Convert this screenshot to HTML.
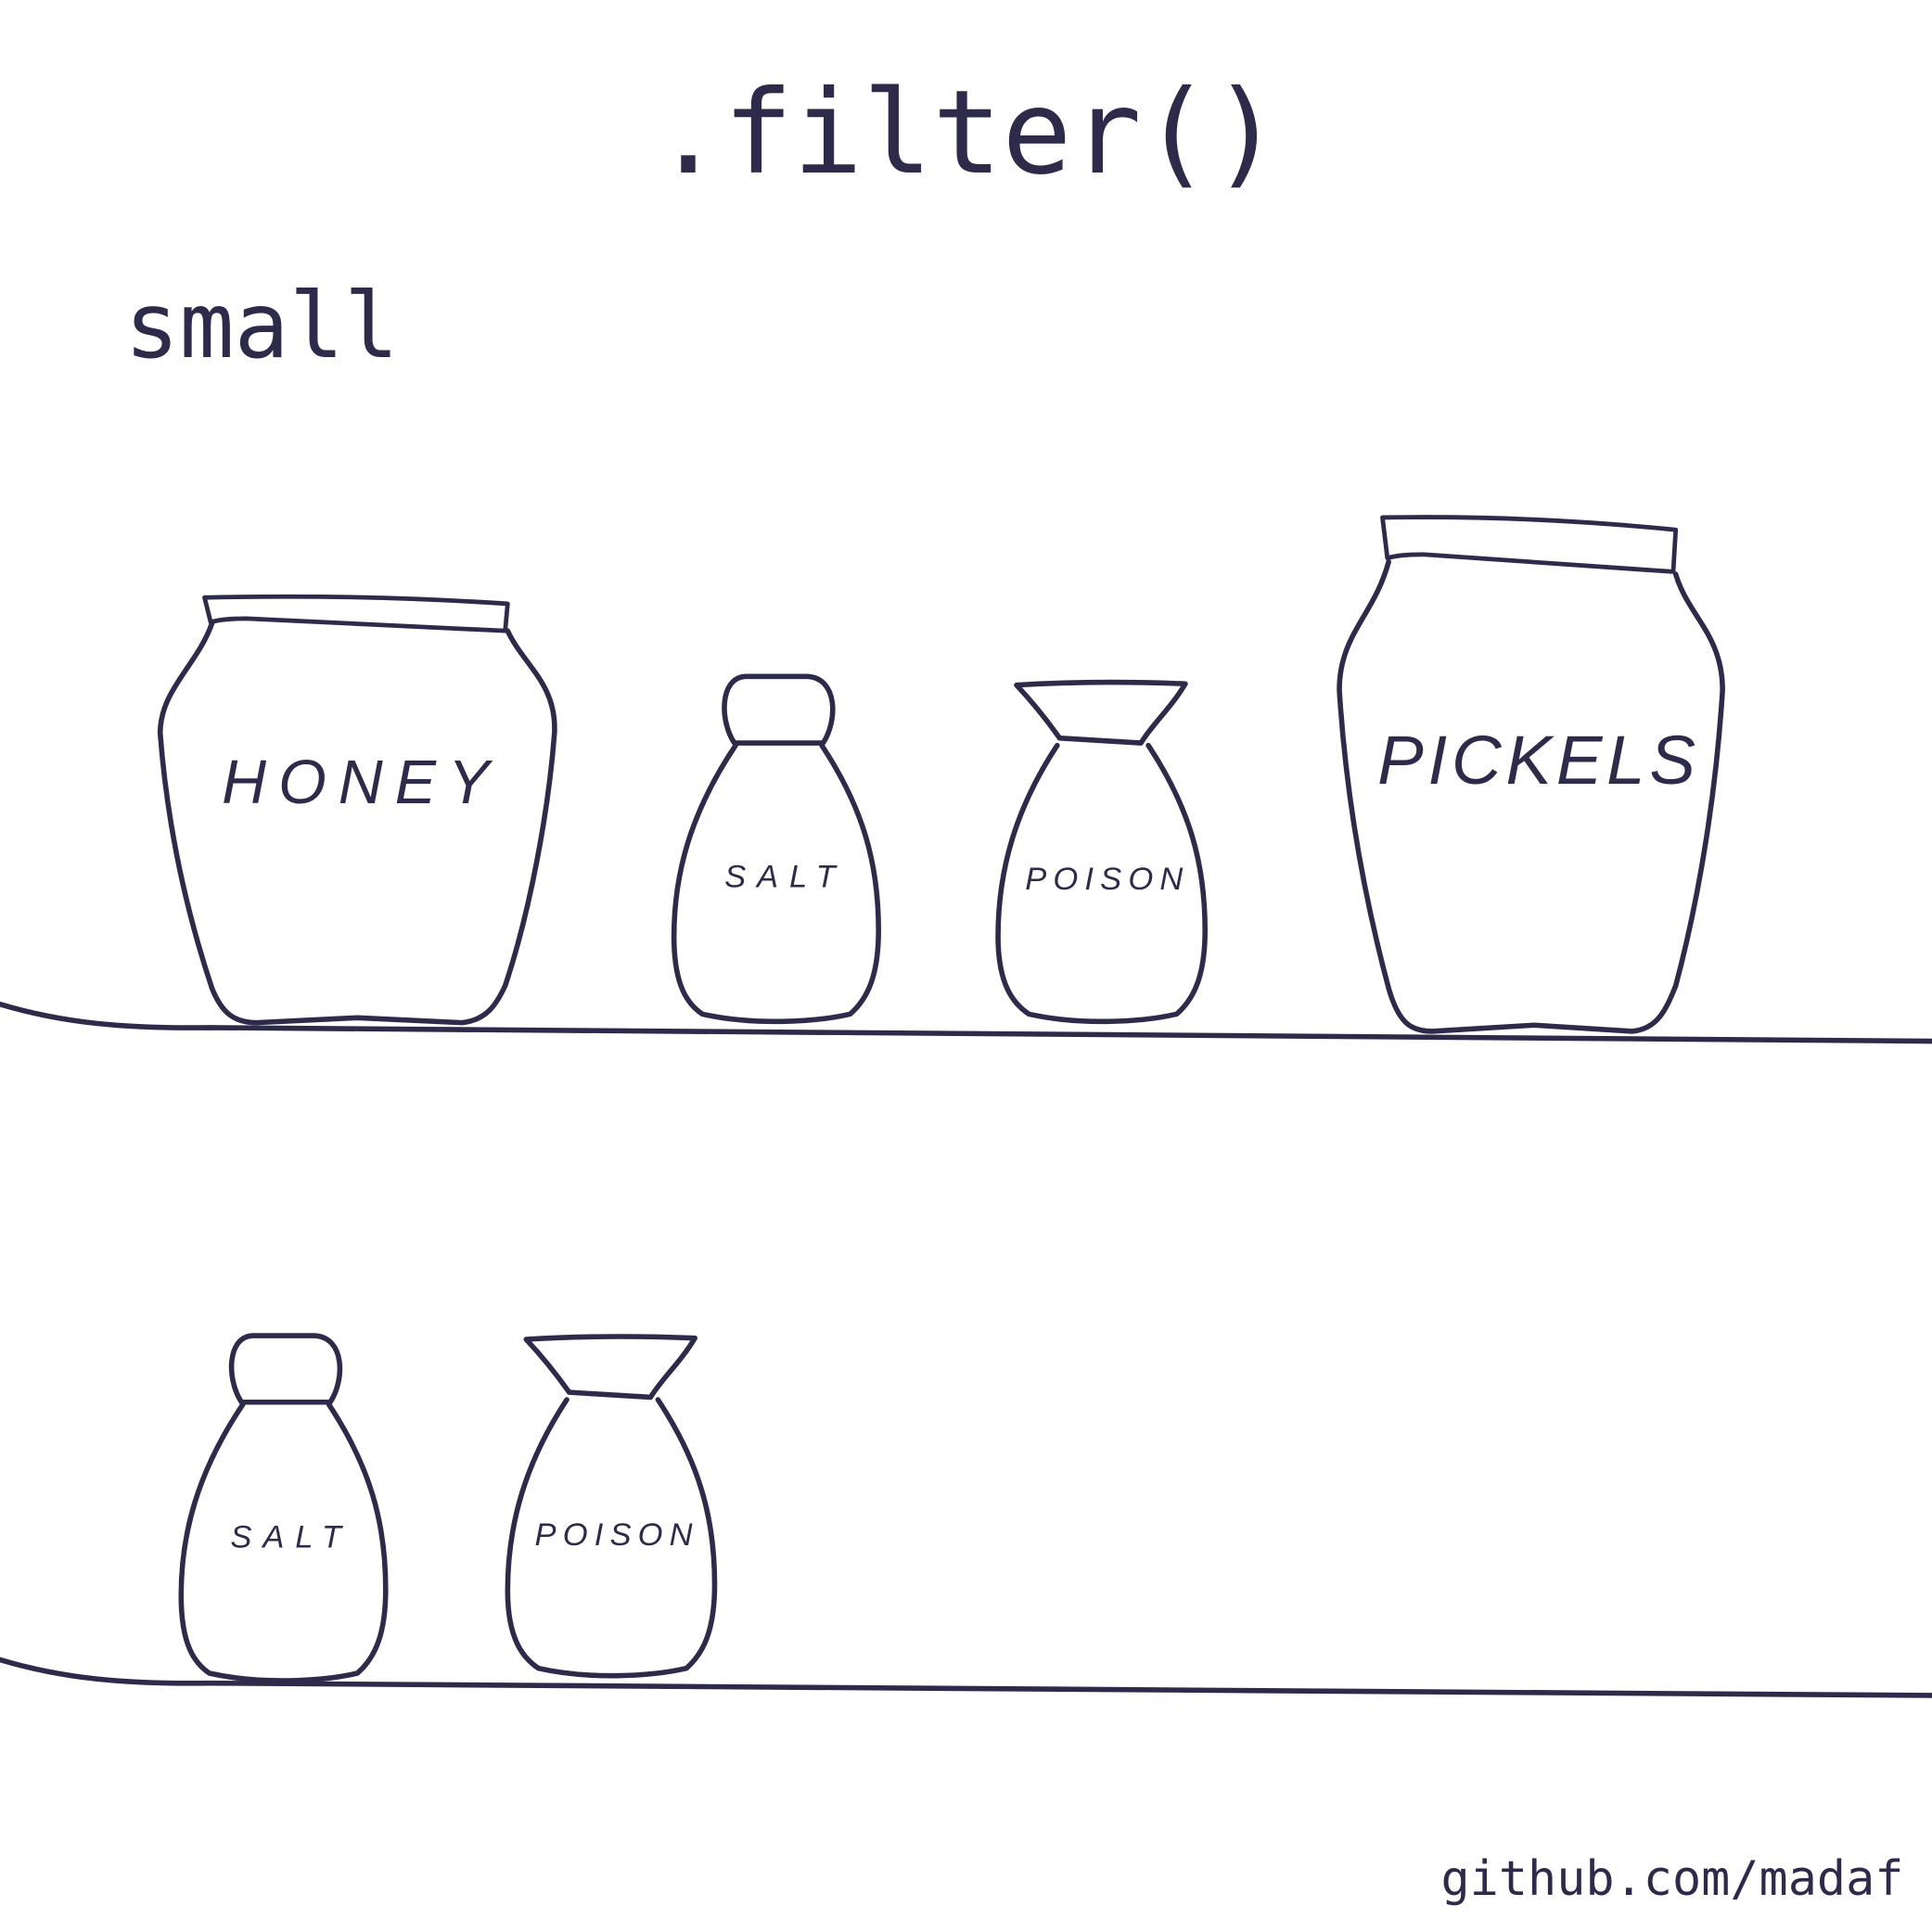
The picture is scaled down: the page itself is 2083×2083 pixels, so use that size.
<!DOCTYPE html>
<html><head><meta charset="utf-8"><style>
html,body{margin:0;padding:0;background:#fff;}
svg{display:block;}
</style></head><body>
<svg width="2083" height="2083" viewBox="0 0 1568 1568" xmlns="http://www.w3.org/2000/svg">
<g fill="#2e2a4a" font-family="'DejaVu Sans Mono','Liberation Mono',monospace">
<text x="785" y="140" font-size="94" text-anchor="middle">.filter()</text>
<text x="101" y="290" font-size="74">small</text>
<text x="1545" y="1538" font-size="39" text-anchor="end">github.com/madaf</text>
</g>
<g fill="none" stroke="#2e2a4a" stroke-width="4.2" stroke-linejoin="round" stroke-linecap="round">
<path d="M0 815 C50 830 100 835 170 834 L1568 845"/>
<path d="M0 1347 C50 1362 100 1367 170 1366 L1568 1376"/>
<path d="M166 485 Q290 482 412 490 L410 512 L200 502 Q180 502 171 505 Z" stroke-width="3.6"/>
<path d="M172 506 C160 540 130 560 130 595 C135 660 148 730 172 802 C180 822 190 830 208 830 L290 826 L375 830 C395 828 403 815 410 800 C430 740 445 660 450 595 C452 555 425 540 412 512" />
<path d="M605 549 L655 549 C680 550 680 585 668 603 L596 603 C584 585 584 550 605 549 Z"/>
<path d="M597 605 C560 660 547 710 547 760 C547 800 558 815 570 823 C610 832 660 830 690 823 C705 810 713 790 713 755 C713 700 700 655 667 605"/>
<path d="M825 556 Q890 552 962 555 C950 575 935 588 926 603 L860 599 C850 585 840 572 825 556 Z"/>
<path d="M858 605 C825 655 810 705 810 760 C810 800 823 815 835 823 C875 832 925 830 955 823 C970 810 978 790 978 755 C978 700 965 655 932 605"/>
<path d="M1122 420 Q1240 418 1360 430 L1358 464 L1155 450 Q1135 450 1126 453 Z" stroke-width="3.6"/>
<path d="M1127 456 C1115 500 1087 515 1087 560 C1092 640 1105 720 1127 802 C1135 830 1145 837 1162 837 L1245 832 L1325 837 C1345 835 1352 820 1360 800 C1380 725 1393 640 1398 560 C1398 515 1370 500 1360 466"/>
<path d="M205 1084 L255 1084 C280 1085 280 1120 268 1138 L196 1138 C184 1120 184 1085 205 1084 Z"/>
<path d="M197 1140 C160 1195 147 1245 147 1295 C147 1335 158 1350 170 1358 C210 1367 260 1365 290 1358 C305 1345 313 1325 313 1290 C313 1235 300 1190 267 1140"/>
<path d="M427 1087 Q492 1083 564 1086 C552 1106 537 1119 528 1134 L462 1130 C452 1116 442 1103 427 1087 Z"/>
<path d="M460 1136 C427 1186 412 1236 412 1291 C412 1331 425 1346 437 1354 C477 1363 527 1361 557 1354 C572 1341 580 1321 580 1286 C580 1231 567 1186 534 1136"/>
</g>
<g fill="#2e2a4a" font-family="'Liberation Sans',sans-serif" font-style="italic" font-weight="100">
<text x="180" y="652" font-size="50" letter-spacing="3" textLength="220">HONEY</text>
<text x="588" y="720" font-size="26" textLength="90">SALT</text>
<text x="832" y="722" font-size="26" textLength="128">POISON</text>
<text x="1118" y="636" font-size="56" textLength="258">PICKELS</text>
<text x="187" y="1256" font-size="26" textLength="90">SALT</text>
<text x="434" y="1254" font-size="26" textLength="128">POISON</text>
</g>
</svg>
</body></html>
